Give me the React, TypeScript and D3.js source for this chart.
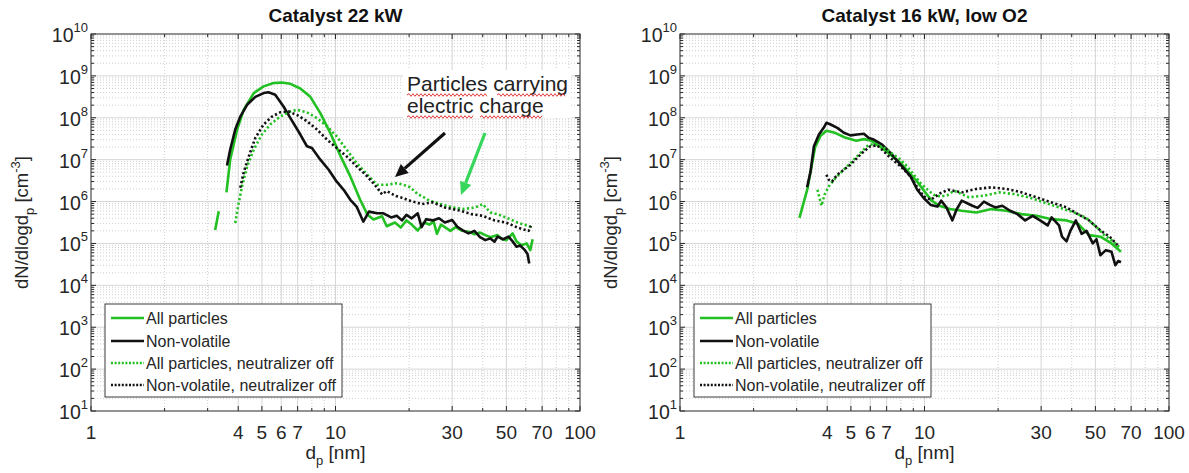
import React from "react";
import * as d3 from "d3";

type Pt = [number, number];

const panelTitles = ["Catalyst 22 kW", "Catalyst 16 kW, low O2"];
const xTickValues = [1, 4, 5, 6, 7, 10, 30, 50, 70, 100];
const xTickLabels = ["1", "4", "5", "6", "7", "10", "30", "50", "70", "100"];
const yTickExponents = [1, 2, 3, 4, 5, 6, 7, 8, 9, 10];
const legendLabels = [
  "All particles",
  "Non-volatile",
  "All particles, neutralizer off",
  "Non-volatile, neutralizer off",
];

// ---------- Left panel: Catalyst 22 kW ----------
const leftAllHead: Pt[] = [[3.22, 2.1e5], [3.33, 5.9e5]];
const leftAll: Pt[] = [
  [3.58, 1.66e6], [3.71, 1.0e7], [3.96, 5.25e7], [4.21, 1.55e8], [4.63, 3.89e8],
  [5.08, 5.62e8], [5.58, 6.76e8], [6.04, 6.92e8], [6.54, 6.46e8], [7.18, 5.0e8],
  [7.89, 3.16e8], [8.67, 1.29e8], [9.53, 4.27e7], [10.5, 1.2e7], [11.5, 3.98e6],
  [12.6, 1.12e6], [13.5, 4.9e5], [14.3, 3.72e5], [15.5, 4.47e5], [16.2, 2.57e5],
  [17.5, 3.16e5], [18.5, 2.4e5], [19.5, 3.55e5], [20.5, 2.82e5], [21.7, 2.04e5],
  [23, 3.16e5], [24.2, 2.82e5], [25.2, 3.31e5], [26, 1.7e5], [27, 2.82e5],
  [28, 2.45e5], [29.5, 2.0e5], [31, 2.45e5], [33, 2.0e5], [35, 1.91e5],
  [37, 1.66e5], [39, 1.82e5], [41, 1.58e5], [43, 1.41e5], [46, 1.58e5],
  [48, 1.26e5], [50, 1.2e5], [53, 1.74e5], [55, 1.12e5], [57.5, 9.1e4],
  [60.5, 1.0e5], [62.6, 6.9e4], [64, 1.26e5],
];
const leftNonVol: Pt[] = [
  [3.6, 7.24e6], [3.71, 1.74e7], [3.89, 5.25e7], [4.08, 1.07e8], [4.35, 2.04e8],
  [4.7, 3.16e8], [5.08, 3.89e8], [5.32, 4.07e8], [5.67, 3.55e8], [6.13, 1.86e8],
  [6.54, 9.8e7], [7.18, 3.98e7], [7.64, 2.09e7], [8.01, 1.91e7], [8.67, 1.0e7],
  [9.38, 5.75e6], [10.1, 3.02e6], [10.8, 1.91e6], [11.5, 1.1e6], [12.2, 7.59e5],
  [13.0, 3.31e5], [13.7, 5.75e5], [14.8, 5.25e5], [15.7, 5.25e5], [16.9, 4.17e5],
  [17.8, 4.57e5], [18.7, 3.55e5], [19.5, 4.79e5], [20.5, 3.98e5], [21.7, 5.25e5],
  [22.5, 2.45e5], [23.5, 3.8e5], [25, 3.55e5], [26.5, 3.98e5], [28, 3.16e5],
  [30, 3.63e5], [31.5, 2.51e5], [33, 2.09e5], [35, 1.74e5], [37, 2.0e5],
  [39, 1.41e5], [41, 1.2e5], [43, 1.32e5], [44.7, 1.1e5], [46, 1.45e5],
  [48.5, 1.26e5], [51, 1.45e5], [53, 1.12e5], [55, 8.32e4], [57, 8.9e4],
  [59.5, 6.92e4], [61, 5.62e4], [62, 3.31e4],
];
const leftAllOff: Pt[] = [
  [3.89, 3.09e5], [4.02, 9.3e5], [4.15, 2.34e6], [4.35, 6.92e6], [4.63, 1.74e7],
  [5.0, 3.98e7], [5.41, 6.92e7], [5.94, 1.07e8], [6.54, 1.41e8], [6.95, 1.55e8],
  [7.64, 1.35e8], [8.4, 9.8e7], [9.23, 6.31e7], [10.1, 3.63e7], [11.1, 1.74e7],
  [12.2, 8.32e6], [13.5, 4.37e6], [14.8, 2.51e6], [16.2, 2.51e6], [17.9, 2.75e6],
  [19, 2.51e6], [20.2, 2.19e6], [21.7, 1.51e6], [23, 1.26e6], [24.2, 1.05e6],
  [26.9, 8.7e5], [30, 7.24e5], [33.5, 6.61e5], [37.3, 7.24e5], [40, 8.7e5],
  [43, 5.5e5], [46, 5.01e5], [49.8, 4.17e5], [55.5, 3.16e5], [59, 2.82e5],
  [61.7, 2.63e5], [63.5, 2.4e5],
];
const leftNonVolOff: Pt[] = [
  [4.08, 2.14e6], [4.21, 4.9e6], [4.42, 1.2e7], [4.7, 3.31e7], [5.08, 6.92e7],
  [5.5, 1.07e8], [5.94, 1.35e8], [6.43, 1.41e8], [6.95, 1.17e8], [7.64, 8.32e7],
  [8.4, 5.25e7], [9.23, 3.02e7], [10.1, 1.91e7], [11.1, 1.2e7], [12.2, 6.92e6],
  [13.5, 3.98e6], [14.8, 2.14e6], [15.5, 1.48e6], [16.2, 1.78e6], [17.7, 1.35e6],
  [18.5, 1.26e6], [20.2, 1.05e6], [22.5, 8.7e5], [25, 9.55e5], [28, 7.24e5],
  [32.5, 6.03e5], [36, 5.01e5], [40, 4.57e5], [44.7, 3.55e5], [49.8, 3.16e5],
  [55.5, 2.4e5], [59, 2.14e5], [61.7, 2.0e5], [63, 2.63e5],
];

// ---------- Right panel: Catalyst 16 kW, low O2 ----------
const rightAll: Pt[] = [
  [3.08, 4.07e5], [3.32, 2.0e6], [3.57, 2.0e7], [3.76, 3.72e7], [3.97, 4.9e7],
  [4.26, 4.47e7], [4.73, 3.39e7], [5.26, 2.82e7], [5.65, 3.09e7], [6.07, 2.82e7],
  [6.51, 2.14e7], [6.98, 1.58e7], [7.5, 1.12e7], [8.05, 7.94e6], [8.63, 5.01e6],
  [9.27, 3.16e6], [9.95, 1.82e6], [10.7, 1.05e6], [11.5, 7.94e5], [12.7, 6.61e5],
  [14.2, 6.03e5], [16.3, 5.5e5], [18.8, 6.61e5], [21.6, 6.03e5], [24.9, 5.01e5],
  [28.7, 4.57e5], [33.1, 3.8e5], [38.1, 3.55e5], [42.4, 2.95e5], [47.1, 1.58e5],
  [52.4, 1.45e5], [58.2, 1.0e5], [63.6, 6.31e4],
];
const rightNonVol: Pt[] = [
  [3.31, 2.19e6], [3.42, 5.25e6], [3.53, 2.09e7], [3.7, 3.98e7], [3.87, 5.75e7],
  [3.97, 7.59e7], [4.13, 6.92e7], [4.4, 5.75e7], [4.68, 4.37e7], [4.98, 3.8e7],
  [5.3, 3.98e7], [5.65, 4.17e7], [5.92, 3.31e7], [6.2, 3.02e7], [6.71, 2.29e7],
  [7.26, 1.45e7], [7.98, 7.59e6], [8.77, 3.98e6], [9.34, 1.91e6], [9.94, 1.2e6],
  [10.6, 8.32e5], [11.3, 7.59e5], [11.7, 1.05e6], [12.3, 7.24e5], [13.0, 3.55e5],
  [13.5, 6.31e5], [14.2, 1.05e6], [15.7, 7.94e5], [16.5, 7.08e5], [17.5, 1.0e6],
  [18.5, 8.32e5], [19.5, 7.24e5], [20.8, 7.94e5], [22.4, 6.03e5], [24, 5.01e5],
  [25.8, 3.55e5], [27.7, 4.57e5], [29.7, 3.55e5], [31.9, 2.69e5], [33.1, 4.17e5],
  [35.5, 2.69e5], [36.5, 1.45e5], [38.1, 1.12e5], [39.5, 2.0e5], [41.6, 3.55e5],
  [43.9, 1.7e5], [46, 2.0e5], [48.8, 1.0e5], [50.5, 1.26e5], [52.4, 5.25e4],
  [55.2, 6.92e4], [58.2, 6.31e4], [60.3, 3.02e4], [62, 3.8e4], [63.6, 3.55e4],
];
const rightAllOff: Pt[] = [
  [3.65, 1.91e6], [3.79, 7.94e5], [3.9, 1.45e6], [4.06, 2.29e6], [4.26, 3.31e6],
  [4.53, 4.79e6], [4.83, 6.92e6], [5.14, 1.0e7], [5.47, 1.45e7], [5.82, 2.09e7],
  [6.2, 2.4e7], [6.6, 2.09e7], [7.03, 1.74e7], [7.48, 1.32e7], [7.98, 1.0e7],
  [8.49, 6.92e6], [9.04, 4.37e6], [9.64, 2.75e6], [10.3, 1.91e6], [10.9, 1.45e6],
  [11.6, 1.32e6], [12.4, 1.41e6], [13.2, 1.82e6], [15.2, 1.26e6], [17.5, 1.38e6],
  [20.2, 1.66e6], [23.2, 1.51e6], [26.7, 1.26e6], [30.8, 9.55e5], [35.5, 7.24e5],
  [40.9, 5.5e5], [45.5, 4.17e5], [50.6, 2.45e5], [54.3, 1.58e5], [58.2, 1.2e5],
  [63.6, 7.59e4],
];
const rightNonVolOff: Pt[] = [
  [3.97, 4.37e6], [4.06, 3.31e6], [4.19, 3.02e6], [4.4, 4.37e6], [4.68, 5.75e6],
  [4.98, 7.59e6], [5.3, 1.1e7], [5.65, 1.58e7], [6.01, 2.09e7], [6.4, 2.19e7],
  [6.82, 1.58e7], [7.26, 1.1e7], [7.98, 6.92e6], [8.77, 3.98e6], [9.34, 2.19e6],
  [9.94, 1.32e6], [10.6, 1.1e6], [11.6, 1.58e6], [12.5, 1.91e6], [14.2, 1.66e6],
  [16.3, 2.0e6], [18.8, 2.19e6], [21.6, 2.0e6], [24.9, 1.66e6], [28.7, 1.26e6],
  [33.1, 9.55e5], [38.1, 7.24e5], [42.4, 5.01e5], [47.1, 3.55e5], [52.4, 2.04e5],
  [57.2, 1.45e5], [62.5, 8.32e4],
];

const GREEN = "#22c022";
const BLACK = "#111111";
const TXT = "#262626";
const FONT = "'Liberation Sans', Arial, Helvetica, sans-serif";

const PLOT_TOP = 34;
const PLOT_BOTTOM = 411;

type Series = { data: Pt[]; color: string; dotted: boolean };

function Panel({ x0, x1, title, series }: { x0: number; x1: number; title: string; series: Series[] }) {
  const x = d3.scaleLog().domain([1, 100]).range([x0, x1]);
  const y = d3.scaleLog().domain([10, 1e10]).range([PLOT_BOTTOM, PLOT_TOP]);
  const line = d3
    .line<Pt>()
    .x((d) => x(d[0]))
    .y((d) => y(d[1]));

  const xMinor: number[] = [];
  [1, 10].forEach((dec) => {
    for (let k = 2; k <= 9; k++) {
      const v = k * dec;
      if (!xTickValues.includes(v)) xMinor.push(v);
    }
  });
  const yMajor = yTickExponents.map((e) => Math.pow(10, e));
  const yMinor: number[] = [];
  for (let e = 1; e < 10; e++) for (let k = 2; k <= 9; k++) yMinor.push(k * Math.pow(10, e));

  const cx = (x0 + x1) / 2;
  const cy = (PLOT_TOP + PLOT_BOTTOM) / 2;
  const clipId = "clip" + Math.round(x0);
  const lgX = x0 + 14;
  const lgY = 304;
  const rowY = [318, 341, 363, 385];
  const lgStyles = [
    { color: GREEN, dotted: false },
    { color: BLACK, dotted: false },
    { color: GREEN, dotted: true },
    { color: BLACK, dotted: true },
  ];

  return (
    <g>
      <defs>
        <clipPath id={clipId}>
          <rect x={x0} y={PLOT_TOP} width={x1 - x0} height={PLOT_BOTTOM - PLOT_TOP} />
        </clipPath>
      </defs>
      <rect x={x0} y={PLOT_TOP} width={x1 - x0} height={PLOT_BOTTOM - PLOT_TOP} fill="#fff" />
      {/* minor grid */}
      {xMinor.map((v) => (
        <line key={"xm" + v} x1={x(v)} x2={x(v)} y1={PLOT_TOP} y2={PLOT_BOTTOM} stroke="#c4c4c4" strokeWidth={0.8} strokeDasharray="1 2" />
      ))}
      {yMinor.map((v) => (
        <line key={"ym" + v} x1={x0} x2={x1} y1={y(v)} y2={y(v)} stroke="#c4c4c4" strokeWidth={0.8} strokeDasharray="1 2" />
      ))}
      {/* major grid */}
      {xTickValues.map((v) => (
        <line key={"xg" + v} x1={x(v)} x2={x(v)} y1={PLOT_TOP} y2={PLOT_BOTTOM} stroke="#d6d6d6" strokeWidth={1} />
      ))}
      {yMajor.map((v) => (
        <line key={"yg" + v} x1={x0} x2={x1} y1={y(v)} y2={y(v)} stroke="#d6d6d6" strokeWidth={1} />
      ))}
      {/* data */}
      <g clipPath={`url(#${clipId})`}>
        {series.map((s, i) => (
          <path
            key={i}
            d={line(s.data) || ""}
            fill="none"
            stroke={s.color}
            strokeWidth={2.6}
            strokeDasharray={s.dotted ? "2.2 2.4" : undefined}
            strokeLinejoin="round"
          />
        ))}
      </g>
      {/* ticks */}
      {xTickValues.map((v) => (
        <g key={"xt" + v}>
          <line x1={x(v)} x2={x(v)} y1={PLOT_BOTTOM} y2={PLOT_BOTTOM - 5} stroke={TXT} />
          <line x1={x(v)} x2={x(v)} y1={PLOT_TOP} y2={PLOT_TOP + 5} stroke={TXT} />
        </g>
      ))}
      {xMinor.map((v) => (
        <g key={"xmt" + v}>
          <line x1={x(v)} x2={x(v)} y1={PLOT_BOTTOM} y2={PLOT_BOTTOM - 3} stroke={TXT} />
          <line x1={x(v)} x2={x(v)} y1={PLOT_TOP} y2={PLOT_TOP + 3} stroke={TXT} />
        </g>
      ))}
      {yMajor.map((v) => (
        <g key={"yt" + v}>
          <line x1={x0} x2={x0 + 5} y1={y(v)} y2={y(v)} stroke={TXT} />
          <line x1={x1} x2={x1 - 5} y1={y(v)} y2={y(v)} stroke={TXT} />
        </g>
      ))}
      {yMinor.map((v) => (
        <g key={"ymt" + v}>
          <line x1={x0} x2={x0 + 3} y1={y(v)} y2={y(v)} stroke={TXT} />
          <line x1={x1} x2={x1 - 3} y1={y(v)} y2={y(v)} stroke={TXT} />
        </g>
      ))}
      <rect x={x0} y={PLOT_TOP} width={x1 - x0} height={PLOT_BOTTOM - PLOT_TOP} fill="none" stroke="#3a3a3a" strokeWidth={1} />
      {/* tick labels */}
      {xTickValues.map((v, i) => (
        <text key={"xl" + v} x={x(v)} y={PLOT_BOTTOM + 28} textAnchor="middle" fontSize={19} fill={TXT} fontFamily={FONT}>
          {xTickLabels[i]}
        </text>
      ))}
      {yTickExponents.map((e) => (
        <text key={"yl" + e} x={x0 - 3} y={y(Math.pow(10, e)) + 8} textAnchor="end" fontSize={19.5} fill={TXT} fontFamily={FONT}>
          10
          <tspan dy={-10} fontSize={13}>
            {String(e)}
          </tspan>
        </text>
      ))}
      {/* title */}
      <text x={cx} y={22} textAnchor="middle" fontSize={19} fontWeight="bold" fill="#111" fontFamily={FONT}>
        {title}
      </text>
      {/* x label */}
      <text x={cx} y={459} textAnchor="middle" fontSize={19} fill={TXT} fontFamily={FONT}>
        d<tspan dy={6} fontSize={13}>p</tspan>
        <tspan dy={-6}> [nm]</tspan>
      </text>
      {/* y label */}
      <text
        transform={`translate(${x0 - 63},${cy}) rotate(-90)`}
        textAnchor="middle"
        fontSize={18.5}
        fill={TXT}
        fontFamily={FONT}
      >
        dN/dlogd<tspan dy={6} fontSize={13}>p</tspan>
        <tspan dy={-6}> [cm</tspan>
        <tspan dy={-8} fontSize={13}>-3</tspan>
        <tspan dy={8}>]</tspan>
      </text>
      {/* legend */}
      <rect x={lgX} y={lgY} width={237} height={93} fill="#fff" stroke="#3a3a3a" strokeWidth={1} />
      {legendLabels.map((lab, i) => (
        <g key={"lg" + i}>
          <line
            x1={lgX + 6}
            x2={lgX + 39}
            y1={rowY[i]}
            y2={rowY[i]}
            stroke={lgStyles[i].color}
            strokeWidth={2.6}
            strokeDasharray={lgStyles[i].dotted ? "2 1.6" : undefined}
          />
          <text x={lgX + 41} y={rowY[i] + 5.5} fontSize={16} fill={TXT} fontFamily={FONT}>
            {lab}
          </text>
        </g>
      ))}
    </g>
  );
}

function wave(xa: number, xb: number, yb: number): string {
  let d = `M${xa},${yb}`;
  let up = true;
  for (let xx = xa + 2; xx <= xb; xx += 2) {
    d += ` L${xx},${yb + (up ? -1.3 : 1.3)}`;
    up = !up;
  }
  return d;
}

function Arrow({ from, to, color }: { from: Pt; to: Pt; color: string }) {
  const ang = Math.atan2(to[1] - from[1], to[0] - from[0]);
  const L = 13;
  const W = 6;
  const bx = to[0] - L * Math.cos(ang);
  const by = to[1] - L * Math.sin(ang);
  const p1 = [bx + W * Math.sin(ang), by - W * Math.cos(ang)];
  const p2 = [bx - W * Math.sin(ang), by + W * Math.cos(ang)];
  return (
    <g>
      <line x1={from[0]} y1={from[1]} x2={bx} y2={by} stroke={color} strokeWidth={3.2} />
      <polygon points={`${to[0]},${to[1]} ${p1[0]},${p1[1]} ${p2[0]},${p2[1]}`} fill={color} />
    </g>
  );
}

export default function App() {
  const leftSeries: Series[] = [
    { data: leftAllHead, color: GREEN, dotted: false },
    { data: leftAll, color: GREEN, dotted: false },
    { data: leftNonVol, color: BLACK, dotted: false },
    { data: leftAllOff, color: GREEN, dotted: true },
    { data: leftNonVolOff, color: BLACK, dotted: true },
  ];
  const rightSeries: Series[] = [
    { data: rightAll, color: GREEN, dotted: false },
    { data: rightNonVol, color: BLACK, dotted: false },
    { data: rightAllOff, color: GREEN, dotted: true },
    { data: rightNonVolOff, color: BLACK, dotted: true },
  ];
  return (
    <svg
      width={1189}
      height={473}
      style={{ position: "absolute", left: 0, top: 0, background: "#fff" }}
      xmlns="http://www.w3.org/2000/svg"
    >
      <rect width={1189} height={473} fill="#fff" />
      <Panel x0={91} x1={580} title={panelTitles[0]} series={leftSeries} />
      <Panel x0={680} x1={1169} title={panelTitles[1]} series={rightSeries} />
      {/* annotation */}
      <rect x={403} y={70} width={168} height={48} fill="#fff" />
      <text x={407} y={91} fontSize={21} fill="#222" fontFamily={FONT}>
        Particles carrying
      </text>
      <text x={407} y={113} fontSize={21} fill="#222" fontFamily={FONT}>
        electric charge
      </text>
      <path d={wave(407, 487, 95)} fill="none" stroke="#e03a3a" strokeWidth={1} />
      <path d={wave(497, 566, 95)} fill="none" stroke="#e03a3a" strokeWidth={1} />
      <path d={wave(407, 473, 117)} fill="none" stroke="#e03a3a" strokeWidth={1} />
      <path d={wave(480, 543, 117)} fill="none" stroke="#e03a3a" strokeWidth={1} />
      <Arrow from={[445, 133]} to={[395, 177]} color="#111" />
      <Arrow from={[485, 133]} to={[461, 195]} color="#36d65a" />
    </svg>
  );
}
